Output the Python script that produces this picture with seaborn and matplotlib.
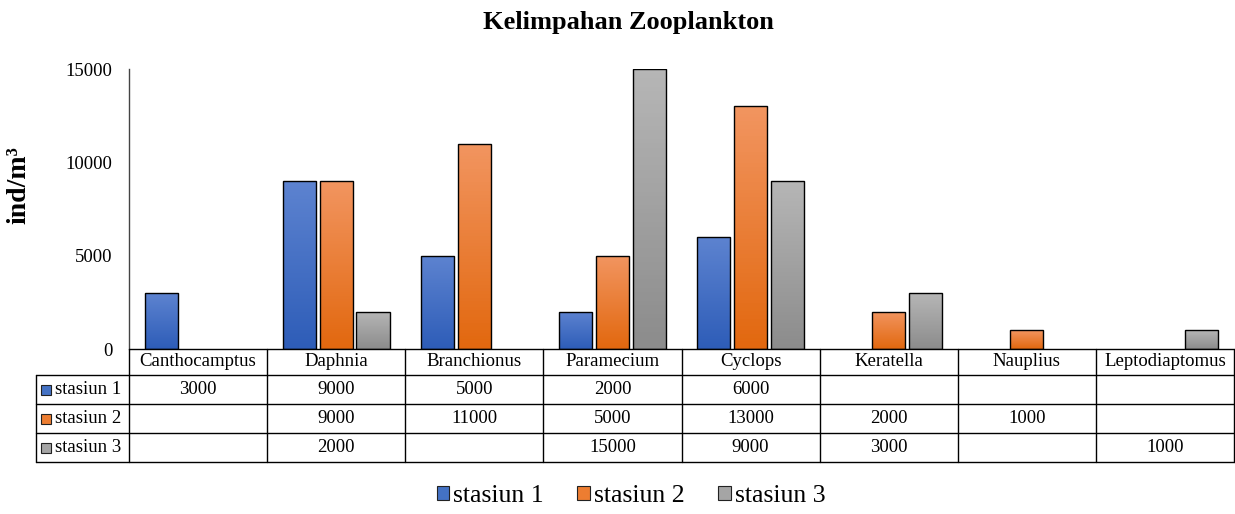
import numpy as np
import pandas as pd
import matplotlib as mpl
import matplotlib.pyplot as plt
import seaborn as sns
from matplotlib.colors import LinearSegmentedColormap
from matplotlib.patches import Rectangle, Patch
from matplotlib.lines import Line2D

taxa = ['Canthocamptus', 'Daphnia', 'Branchionus', 'Paramecium',
        'Cyclops', 'Keratella', 'Nauplius', 'Leptodiaptomus']
stations = ['stasiun 1', 'stasiun 2', 'stasiun 3']
stasiun_1 = [3000, 9000, 5000, 2000, 6000, None, None, None]
stasiun_2 = [None, 9000, 11000, 5000, 13000, 2000, 1000, None]
stasiun_3 = [None, 2000, None, 15000, 9000, 3000, None, 1000]
yticks = [0, 5000, 10000, 15000]

# gradient top / bottom, plus flat colour for legend squares
grad = {
    'stasiun 1': ('#5d83d0', '#2e5db8', '#4472c4'),
    'stasiun 2': ('#f29560', '#e2680f', '#ed7d31'),
    'stasiun 3': ('#b6b6b6', '#8c8c8c', '#a5a5a5'),
}

rows = []
for st, vals in zip(stations, [stasiun_1, stasiun_2, stasiun_3]):
    for t, v in zip(taxa, vals):
        rows.append({'taxon': t, 'station': st, 'value': np.nan if v is None else v})
df = pd.DataFrame(rows)

sns.set_theme(style='white')
plt.rcParams['font.family'] = ['Liberation Serif', 'DejaVu Serif']
plt.rcParams['text.color'] = 'black'
plt.rcParams['ytick.color'] = 'black'
plt.rcParams['axes.labelcolor'] = 'black'

W, H = 1235, 514
fig = plt.figure(figsize=(W / 100, H / 100), dpi=100)

def fx(px):
    return px / W

def fy(py):
    return 1 - py / H

ax_l, ax_r, ax_t, ax_b = 129, 1234, 69, 349
ax = fig.add_axes([fx(ax_l), fy(ax_b), fx(ax_r - ax_l), (ax_b - ax_t) / H])

sns.barplot(data=df, x='taxon', y='value', hue='station', order=taxa,
            hue_order=stations, palette=[grad[s][2] for s in stations],
            width=0.8, gap=0.1, edgecolor='black', linewidth=1.0,
            errorbar=None, legend=False, ax=ax)

# gradient fills clipped to each bar
for cont, st in zip(ax.containers, stations):
    top, bot, _ = grad[st]
    cmap = LinearSegmentedColormap.from_list(st, [bot, top])
    for p in cont.patches:
        h = p.get_height()
        if not np.isfinite(h) or h <= 0:
            continue
        x0 = p.get_x()
        im = ax.imshow(np.linspace(0, 1, 64).reshape(-1, 1), cmap=cmap,
                       origin='lower', aspect='auto',
                       extent=[x0, x0 + p.get_width(), 0, h],
                       zorder=p.get_zorder() - 0.1)
        im.set_clip_path(p)
        p.set_facecolor('none')
ax.set_xlim(-0.5, len(taxa) - 0.5)
ax.set_ylim(0, 15000)
ax.set_aspect('auto')

ax.set_yticks(yticks)
ax.set_yticklabels([str(v) for v in yticks], fontsize=13.5)
ax.tick_params(axis='y', length=0, pad=12)
ax.set_xticks([])
ax.set_xlabel('')
ax.set_ylabel('')
for s in ['top', 'right', 'bottom']:
    ax.spines[s].set_visible(False)
ax.spines['left'].set_color('#444444')
ax.spines['left'].set_linewidth(1.0)

fig.text(fx(19), fy(185), 'ind/m³', rotation=90, ha='center', va='center',
         fontsize=20, fontweight='bold')
fig.text(fx(628), fy(23), 'Kelimpahan Zooplankton', ha='center', va='center',
         fontsize=19, fontweight='bold')

# data table below the plot
row_y = [349, 375, 404, 433, 462]
tab_l = 36
cat_w = (ax_r - ax_l) / len(taxa)
lw = 1.0
fs = 13.5

def hline(x0, x1, y):
    fig.add_artist(Line2D([fx(x0), fx(x1)], [fy(y), fy(y)], color='black', lw=lw))

def vline(x, y0, y1):
    fig.add_artist(Line2D([fx(x), fx(x)], [fy(y0), fy(y1)], color='black', lw=lw))

hline(ax_l, ax_r, row_y[0])
for y in row_y[1:]:
    hline(tab_l, ax_r, y)
vline(tab_l, row_y[1], row_y[-1])
for i in range(len(taxa) + 1):
    vline(ax_l + i * cat_w, row_y[0], row_y[-1])

for i, t in enumerate(taxa):
    fig.text(fx(ax_l + (i + 0.5) * cat_w), fy((row_y[0] + row_y[1]) / 2), t,
             ha='center', va='center', fontsize=fs)

for r, (st, vals) in enumerate(zip(stations, [stasiun_1, stasiun_2, stasiun_3])):
    yc = (row_y[r + 1] + row_y[r + 2]) / 2
    fig.add_artist(Rectangle((fx(41), fy(yc + 5)), fx(10), 10 / H,
                             facecolor=grad[st][2], edgecolor='#222222', lw=0.8))
    fig.text(fx(55), fy(yc), st, ha='left', va='center', fontsize=fs)
    for i, v in enumerate(vals):
        if v is not None:
            fig.text(fx(ax_l + (i + 0.5) * cat_w), fy(yc), str(v),
                     ha='center', va='center', fontsize=fs)

handles = [Patch(facecolor=grad[s][2], edgecolor='#222222', lw=0.8) for s in stations]
fig.legend(handles, stations, loc='center', bbox_to_anchor=(fx(631), fy(496)),
           ncol=3, frameon=False, fontsize=18.5, handlelength=0.5, handleheight=0.5,
           handletextpad=0.15, columnspacing=1.3)

fig.savefig('out.png', dpi=100)
